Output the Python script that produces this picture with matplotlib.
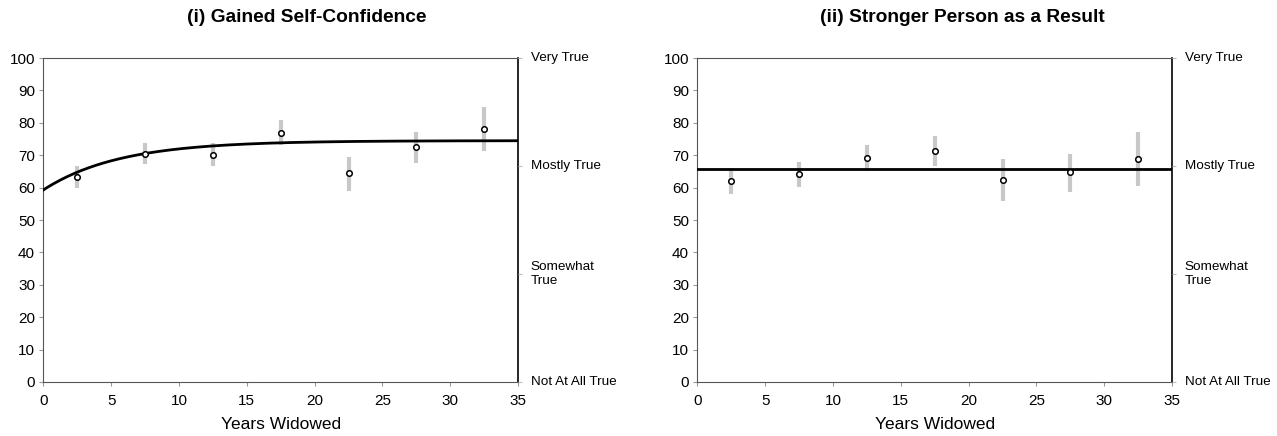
import numpy as np
import matplotlib
matplotlib.use("Agg")
import matplotlib.pyplot as plt

plt.rcParams['font.family'] = ['Liberation Sans', 'DejaVu Sans']

# data
years = [2.5, 7.5, 12.5, 17.5, 22.5, 27.5, 32.5]

conf_mean = [63.4, 70.4, 70.2, 76.9, 64.4, 72.5, 78.2]
conf_low = [60.0, 67.2, 66.8, 73.1, 59.0, 67.7, 71.3]
conf_high = [66.7, 73.7, 73.7, 80.9, 69.5, 77.3, 85.0]

strong_mean = [62.1, 64.1, 69.2, 71.3, 62.4, 64.7, 68.9]
strong_low = [58.0, 60.2, 65.1, 66.8, 56.0, 58.6, 60.5]
strong_high = [66.1, 67.8, 73.3, 75.9, 68.8, 70.5, 77.2]

# fitted curves
conf_start = 59.3
conf_asym = 74.5
conf_rate = 5.6
strong_level = 65.7

titles = ["(i) Gained Self-Confidence", "(ii) Stronger Person as a Result"]
right_ticks = [0, 33.3, 66.7, 100]
right_labels = ["Not At All True", "Somewhat\nTrue", "Mostly True", "Very True"]

fig = plt.figure(figsize=(12.77, 4.36), dpi=100)
ax1 = fig.add_axes([0.034, 0.1239, 0.3717, 0.743])
ax2 = fig.add_axes([0.5461, 0.1239, 0.3717, 0.743])

xs = np.linspace(0, 35, 200)
curves = [conf_asym - (conf_asym - conf_start) * np.exp(-xs / conf_rate),
          np.full_like(xs, strong_level)]
means = [conf_mean, strong_mean]
lows = [conf_low, strong_low]
highs = [conf_high, strong_high]
title_x = [307 / 1277, 962 / 1277]

for ax, title, tx, curve, m, lo, hi in zip([ax1, ax2], titles, title_x, curves, means, lows, highs):
    m = np.array(m)
    err = [m - np.array(lo), np.array(hi) - m]
    ax.errorbar(years, m, yerr=err, fmt='none', ecolor='#c8c8c8', elinewidth=3, capsize=0, zorder=2)
    ax.plot(xs, curve, color='black', lw=2, zorder=3)
    ax.plot(years, m, 'o', ms=4, mfc='white', mec='black', mew=1.1, zorder=4)

    ax.set_xlim(0, 35)
    ax.set_ylim(0, 100)
    ax.set_xticks(range(0, 36, 5))
    ax.set_yticks(range(0, 101, 10))
    ax.tick_params(labelsize=11, length=3, color='#999999')
    ax.tick_params(axis='x', pad=6)
    ax.tick_params(axis='y', pad=3)
    for s in ['left', 'bottom', 'top']:
        ax.spines[s].set_color('#555555')
    ax.spines['right'].set_color('black')
    ax.spines['right'].set_linewidth(1.2)
    ax.set_xlabel("Years Widowed", fontsize=12.5, labelpad=6)
    fig.text(tx, 1 - 17 / 436, title, fontsize=13.8, fontweight='bold', ha='center', va='center')

    ax_r = ax.twinx()
    ax_r.set_ylim(0, 100)
    ax_r.set_yticks(right_ticks)
    ax_r.set_yticklabels(right_labels, fontsize=9.7, va='center', ha='left')
    ax_r.tick_params(length=3, color='#bbbbbb', pad=6)
    for s in ax_r.spines.values():
        s.set_visible(False)

fig.savefig("out.png", dpi=100, facecolor='white')
